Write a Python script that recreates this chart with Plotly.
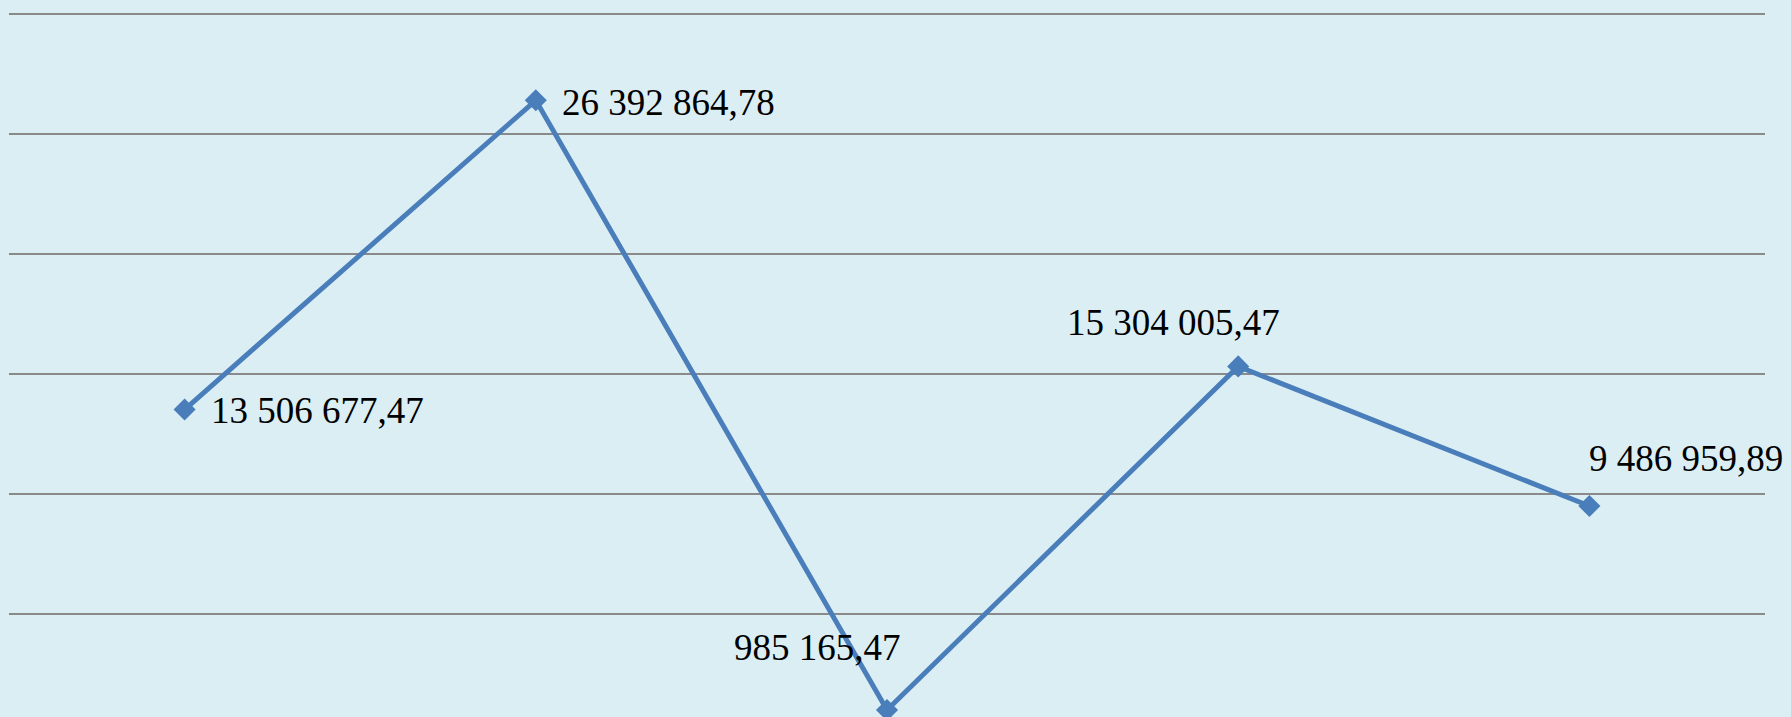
import plotly.graph_objects as go

# data
categories = ['1', '2', '3', '4', '5']
values = [13506677.47, 26392864.78, 985165.47, 15304005.47, 9486959.89]

# label placement per point: (xanchor, xshift, yshift)
label_pos = [
    ('left', 24, -1),
    ('left', 24, -2),
    ('center', -70, 63),
    ('center', -65, 44),
    ('center', 97, 48),
]

BG = '#DBEEF4'
LINE = '#4A7EBB'


def fmt(v):
    return f'{v:,.2f}'.replace(',', ' ').replace('.', ',')


fig = go.Figure()
fig.add_trace(go.Scatter(
    x=categories, y=values, mode='lines+markers',
    line=dict(color=LINE, width=5),
    marker=dict(symbol='diamond', size=17, color=LINE),
    cliponaxis=False, showlegend=False, hoverinfo='skip'))

# annotations on a category axis take the category index
for i, (val, (xa, dx, dy)) in enumerate(zip(values, label_pos)):
    fig.add_annotation(
        x=i, y=val, text=fmt(val), showarrow=False,
        xanchor=xa, yanchor='middle', xshift=dx, yshift=dy,
        font=dict(family='Liberation Serif, Times New Roman, serif',
                  size=37, color='#000000'))

fig.update_xaxes(
    type='category', range=[-0.5, 4.5], visible=False)
fig.update_yaxes(
    range=[696000, 30571000], tickvals=[5e6, 10e6, 15e6, 20e6, 25e6, 30e6],
    showgrid=True, gridcolor='#8A8A8A', gridwidth=2,
    showticklabels=False, zeroline=False, showline=False, ticks='')

fig.update_layout(
    width=1791, height=717,
    margin={'l': 9, 'r': 26, 't': 0, 'b': 0},
    paper_bgcolor=BG, plot_bgcolor=BG)

fig.write_html('out.html', config={'displayModeBar': False},
               post_script="document.body.style.margin='0';")
